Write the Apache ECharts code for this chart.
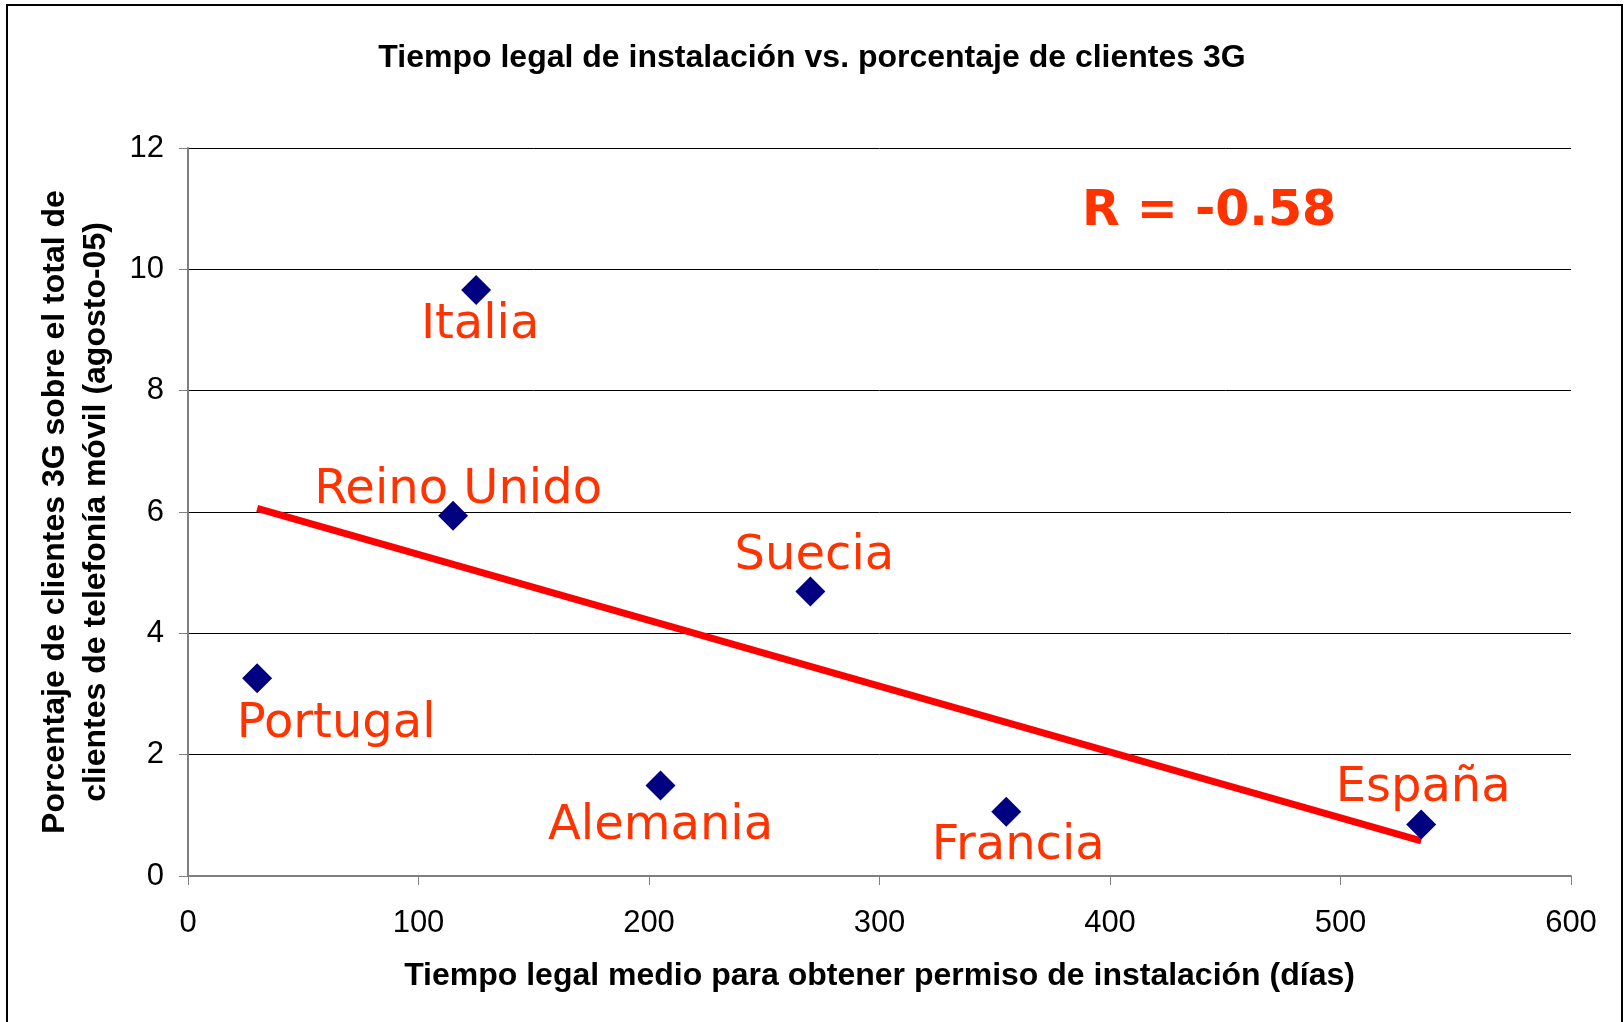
<!DOCTYPE html>
<html>
<head>
<meta charset="utf-8">
<script src="https://cdn.jsdelivr.net/npm/echarts@6/dist/echarts.min.js"></script>
<style>
  html, body { margin: 0; padding: 0; background: #fff; }
  #chart { width: 1624px; height: 1022px; }
</style>
</head>
<body>
<div id="chart"></div>
<script>
// values
const countries = ['Portugal', 'Reino Unido', 'Italia', 'Alemania', 'Suecia', 'Francia', 'España']
const days = [30, 115, 125, 205, 270, 355, 535]
const share3g = [3.26, 5.94, 9.66, 1.49, 4.69, 1.06, 0.85]
const trendDays = [30, 535]
const trendShare = [6.06, 0.58]
const rText = 'R = -0.58'

// where each country name sits relative to its marker (px)
const labelOffsets = {
  'Portugal': [79, 46],
  'Reino Unido': [5, -25],
  'Italia': [4, 36],
  'Alemania': [0, 41],
  'Suecia': [4, -35],
  'Francia': [12, 35],
  'España': [2, -36],
}

const labelFont = '"DejaVu Sans", Verdana, sans-serif'
const axisFont = '"Liberation Sans", Arial, sans-serif'
const orange = '#ff3300'

const chart = echarts.init(document.getElementById('chart'))

const points = countries.map((name, i) => ({
  name,
  value: [days[i], share3g[i]],
  label: { offset: labelOffsets[name] },
}))

chart.setOption({
  backgroundColor: '#fff',
  animation: false,
  title: {
    text: 'Tiempo legal de instalación vs. porcentaje de clientes 3G',
    left: 'center',
    top: 37,
    textStyle: {
      fontFamily: axisFont,
      fontWeight: 'bold',
      fontSize: 32,
      lineHeight: 32,
      color: '#000',
    },
  },
  grid: { left: 188, right: 53, top: 148, bottom: 146 },
  xAxis: {
    type: 'value',
    min: 0,
    max: 600,
    interval: 100,
    name: 'Tiempo legal medio para obtener permiso de instalación (días)',
    nameLocation: 'middle',
    nameGap: 83,
    nameTextStyle: { fontFamily: axisFont, fontWeight: 'bold', fontSize: 32, lineHeight: 34, color: '#000' },
    axisLine: { lineStyle: { color: '#808080', width: 2 } },
    axisTick: { show: true, length: 9, inside: false, lineStyle: { color: '#808080', width: 1 } },
    axisLabel: { margin: 32, fontFamily: axisFont, fontSize: 31, color: '#000' },
    splitLine: { show: false },
  },
  yAxis: {
    type: 'value',
    min: 0,
    max: 12,
    interval: 2,
    name: 'Porcentaje de clientes 3G sobre el total de\nclientes de telefonía móvil (agosto-05)',
    nameLocation: 'middle',
    nameRotate: 90,
    nameGap: 71,
    nameTextStyle: { fontFamily: axisFont, fontWeight: 'bold', fontSize: 32, lineHeight: 41, color: '#000' },
    axisLine: { show: true, lineStyle: { color: '#808080', width: 2 } },
    axisTick: { show: true, length: 9, lineStyle: { color: '#808080', width: 1 } },
    axisLabel: { margin: 24, fontFamily: axisFont, fontSize: 31, color: '#000' },
    splitLine: { show: true, lineStyle: { color: '#000', width: 1 } },
  },
  graphic: [
    {
      type: 'rect',
      shape: { x: 7, y: 5, width: 1615, height: 1030 },
      style: { fill: 'none', stroke: '#000', lineWidth: 2 },
      silent: true,
    },
    {
      type: 'text',
      left: 1082,
      top: 188,
      style: {
        text: rText,
        fill: orange,
        font: 'bold 49px ' + labelFont,
      },
    },
  ],
  series: [
    {
      type: 'line',
      data: trendDays.map((d, i) => [d, trendShare[i]]),
      showSymbol: false,
      lineStyle: { color: '#ff0000', width: 7 },
      z: 2,
    },
    {
      type: 'scatter',
      data: points,
      symbol: 'diamond',
      symbolSize: 30,
      itemStyle: { color: '#000080', opacity: 1 },
      z: 3,
      label: {
        show: true,
        position: 'inside',
        formatter: '{b}',
        fontFamily: labelFont,
        fontSize: 48,
        color: orange,
      },
    },
  ],
})
</script>
</body>
</html>
